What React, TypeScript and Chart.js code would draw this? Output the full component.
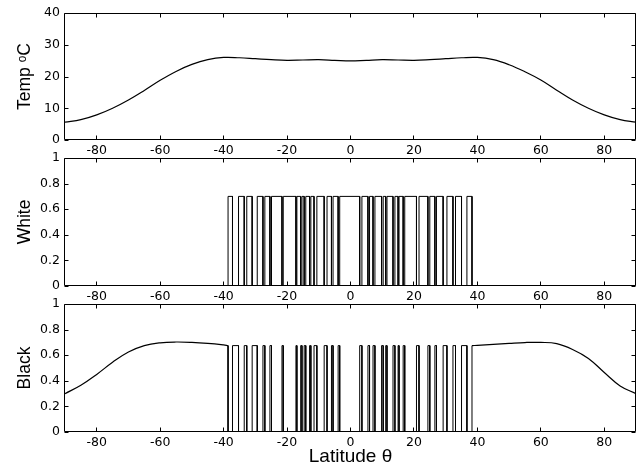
import React, { useEffect, useRef } from "react";
import { Chart, registerables } from "chart.js";

Chart.register(...registerables);

const W = 641;
const H = 470;

// Tick labels
const latTicks = [-80, -60, -40, -20, 0, 20, 40, 60, 80];
const tempTicks = [0, 10, 20, 30, 40];
const fracTicks = [0, 0.2, 0.4, 0.6, 0.8, 1];

// Temperature profile (°C) vs latitude
const tempLat = [-90, -85, -80, -75, -70, -65, -60, -55, -50, -45, -40, -35, -30, -25, -20, -15, -10, -5, 0, 5, 10, 15, 20, 25, 30, 35, 40, 45, 50, 55, 60, 65, 70, 75, 80, 85, 90];
const tempVal = [5.6, 6.4, 7.9, 10.0, 12.6, 15.6, 18.8, 21.6, 23.8, 25.3, 26.0, 25.9, 25.6, 25.3, 25.1, 25.2, 25.3, 25.1, 24.9, 25.1, 25.3, 25.2, 25.1, 25.3, 25.6, 25.9, 26.0, 25.3, 23.7, 21.5, 18.9, 15.7, 12.6, 10.0, 7.9, 6.4, 5.6];

// White daisy cover: intervals [start, end] in latitude where cover = whiteHeight
const whiteHeight = 0.7;
const whiteIntervals = [
  [-38.6, -37.2], [-35.3, -33.5], [-32.7, -31.0], [-29.4, -27.6], [-27.0, -25.4],
  [-24.9, -21.6], [-21.2, -17.2], [-16.9, -15.7], [-15.3, -14.6], [-14.1, -12.9],
  [-12.5, -11.5], [-10.6, -8.3], [-7.4, -6.0], [-5.5, -3.9], [-3.4, 2.9],
  [3.6, 5.5], [6.0, 7.1], [7.7, 9.8], [10.3, 11.1], [11.5, 13.4],
  [14.0, 15.0], [15.3, 16.6], [17.1, 20.8], [21.6, 24.4], [25.0, 26.6],
  [27.1, 29.2], [30.4, 32.3], [33.1, 35.0], [36.7, 38.3],
];

// Black daisy cover
const blackHeight = 0.675;
const blackIntervals = [
  [-37.2, -35.3], [-33.5, -32.7], [-31.0, -29.4], [-27.6, -27.0], [-25.4, -24.9],
  [-21.6, -21.2], [-17.2, -16.9], [-15.7, -15.3], [-14.6, -14.1], [-12.9, -12.5],
  [-11.5, -10.6], [-8.3, -7.4], [-6.0, -5.5], [-3.9, -3.4], [2.9, 3.6],
  [5.5, 6.0], [7.1, 7.7], [9.8, 10.3], [11.1, 11.5], [13.4, 14.0],
  [15.0, 15.3], [16.6, 17.1], [20.8, 21.6], [24.4, 25.0], [26.6, 27.1],
  [29.2, 30.4], [32.3, 33.1], [35.0, 36.7],
];
const blackLeftLat = [-90, -85, -80, -75, -70, -65, -60, -55, -50, -45, -40, -38.6];
const blackLeftVal = [0.30, 0.365, 0.45, 0.545, 0.625, 0.675, 0.697, 0.703, 0.70, 0.692, 0.68, 0.675];
const blackRightLat = [38.3, 40, 45, 50, 55, 60, 65, 70, 75, 80, 85, 90];
const blackRightVal = [0.675, 0.677, 0.684, 0.692, 0.699, 0.70, 0.69, 0.645, 0.575, 0.465, 0.36, 0.30];

type Pt = { x: number; y: number };

function pulses(intervals: number[][], h: number): Pt[] {
  const pts: Pt[] = [];
  for (const [a, b] of intervals) {
    pts.push({ x: a, y: 0 }, { x: a, y: h }, { x: b, y: h }, { x: b, y: 0 });
  }
  return pts;
}

const curve = (data: Pt[]) => ({ data, smooth: true });
const steps = (data: Pt[]) => ({ data, smooth: false });

function tempSeries() {
  return [curve(tempLat.map((x, i) => ({ x, y: tempVal[i] })))];
}

function whiteSeries() {
  return [steps([{ x: -90, y: 0 }, ...pulses(whiteIntervals, whiteHeight), { x: 90, y: 0 }])];
}

function blackSeries() {
  const left = blackLeftLat.map((x, i) => ({ x, y: blackLeftVal[i] }));
  const right = blackRightLat.map((x, i) => ({ x, y: blackRightVal[i] }));
  const lastL = left[left.length - 1];
  const firstR = right[0];
  return [
    curve(left),
    steps([lastL, { x: lastL.x, y: 0 }, ...pulses(blackIntervals, blackHeight), { x: firstR.x, y: 0 }, firstR]),
    curve(right),
  ];
}

const panels = [
  { top: 13, bottom: 140, yMax: 40, yTicks: tempTicks, yTitle: "Temp ᵒC", xTitle: "", series: tempSeries },
  { top: 158, bottom: 286, yMax: 1, yTicks: fracTicks, yTitle: "White", xTitle: "", series: whiteSeries },
  { top: 304, bottom: 432, yMax: 1, yTicks: fracTicks, yTitle: "Black", xTitle: "Latitude θ", series: blackSeries },
];

const boxPlugin = {
  id: "matlabBox",
  afterDraw(chart: any) {
    const { ctx, chartArea: a, scales } = chart;
    const xs = scales.x;
    const ys = scales.y;
    const L = a.left - 0.5;
    const R = a.right - 0.5;
    const T = a.top + 0.5;
    const B = a.bottom - 0.5;
    ctx.save();
    ctx.strokeStyle = "#000";
    ctx.lineWidth = 1;
    ctx.beginPath();
    ctx.rect(L, T, R - L, B - T);
    for (const t of xs.ticks) {
      const px = Math.floor(xs.getPixelForValue(t.value)) + 0.5;
      ctx.moveTo(px, B);
      ctx.lineTo(px, B - 4);
      ctx.moveTo(px, T);
      ctx.lineTo(px, T + 4);
    }
    for (const t of ys.ticks) {
      const py = Math.round(ys.getPixelForValue(t.value)) + 0.5;
      ctx.moveTo(L, py);
      ctx.lineTo(L + 4, py);
      ctx.moveTo(R, py);
      ctx.lineTo(R - 4, py);
    }
    ctx.stroke();
    ctx.restore();
  },
};

const tickFont = { family: "'DejaVu Sans', sans-serif", size: 12.5 };
const titleFamily = "'Liberation Sans', 'DejaVu Sans', sans-serif";

function Panel({ p }: { p: (typeof panels)[number] }) {
  const ref = useRef<HTMLCanvasElement | null>(null);
  useEffect(() => {
    if (!ref.current) return;
    const chart = new Chart(ref.current, {
      type: "line",
      data: {
        datasets: p.series().map((s) => ({
          data: s.data,
          borderColor: "#000",
          borderWidth: s.smooth ? 1.2 : 1,
          pointRadius: 0,
          fill: false,
          tension: s.smooth ? 0.4 : 0,
          cubicInterpolationMode: "default",
        })) as any,
      },
      options: {
        animation: false,
        responsive: false,
        devicePixelRatio: 1,
        layout: { padding: { left: 0, right: 5, top: p.top, bottom: 0 } },
        plugins: { legend: { display: false }, tooltip: { enabled: false } },
        scales: {
          x: {
            type: "linear",
            min: -90,
            max: 90,
            afterBuildTicks: (s: any) => {
              s.ticks = latTicks.map((v) => ({ value: v }));
            },
            afterFit: (s: any) => {
              s.height = H - p.bottom;
            },
            grid: { display: false, drawTicks: false },
            border: { display: false },
            ticks: {
              padding: 3,
              color: "#000",
              font: tickFont,
              maxRotation: 0,
              autoSkip: false,
              callback: (v: any) => String(v),
            },
            title: {
              display: !!p.xTitle,
              text: p.xTitle,
              color: "#000",
              font: { family: titleFamily, size: 19 },
              padding: { top: 0, bottom: 2 },
            },
          },
          y: {
            type: "linear",
            min: 0,
            max: p.yMax,
            afterBuildTicks: (s: any) => {
              s.ticks = p.yTicks.map((v) => ({ value: v }));
            },
            afterFit: (s: any) => {
              s.width = 65;
            },
            grid: { display: false, drawTicks: false },
            border: { display: false },
            ticks: {
              padding: 5,
              color: "#000",
              font: tickFont,
              autoSkip: false,
              callback: (v: any) => String(v),
            },
            title: {
              display: true,
              text: p.yTitle,
              color: "#000",
              font: { family: titleFamily, size: 17.5 },
              padding: { top: 15, bottom: 0 },
            },
          },
        },
      } as any,
      plugins: [boxPlugin],
    });
    return () => chart.destroy();
  }, []);
  return (
    <canvas
      ref={ref}
      width={W}
      height={H}
      style={{ position: "absolute", left: 0, top: 0, width: W, height: H, display: "block" }}
    />
  );
}

export default function App() {
  return (
    <div style={{ position: "absolute", left: 0, top: 0, width: W, height: H, background: "#fff" }}>
      {panels.map((p, i) => (
        <Panel key={i} p={p} />
      ))}
    </div>
  );
}
